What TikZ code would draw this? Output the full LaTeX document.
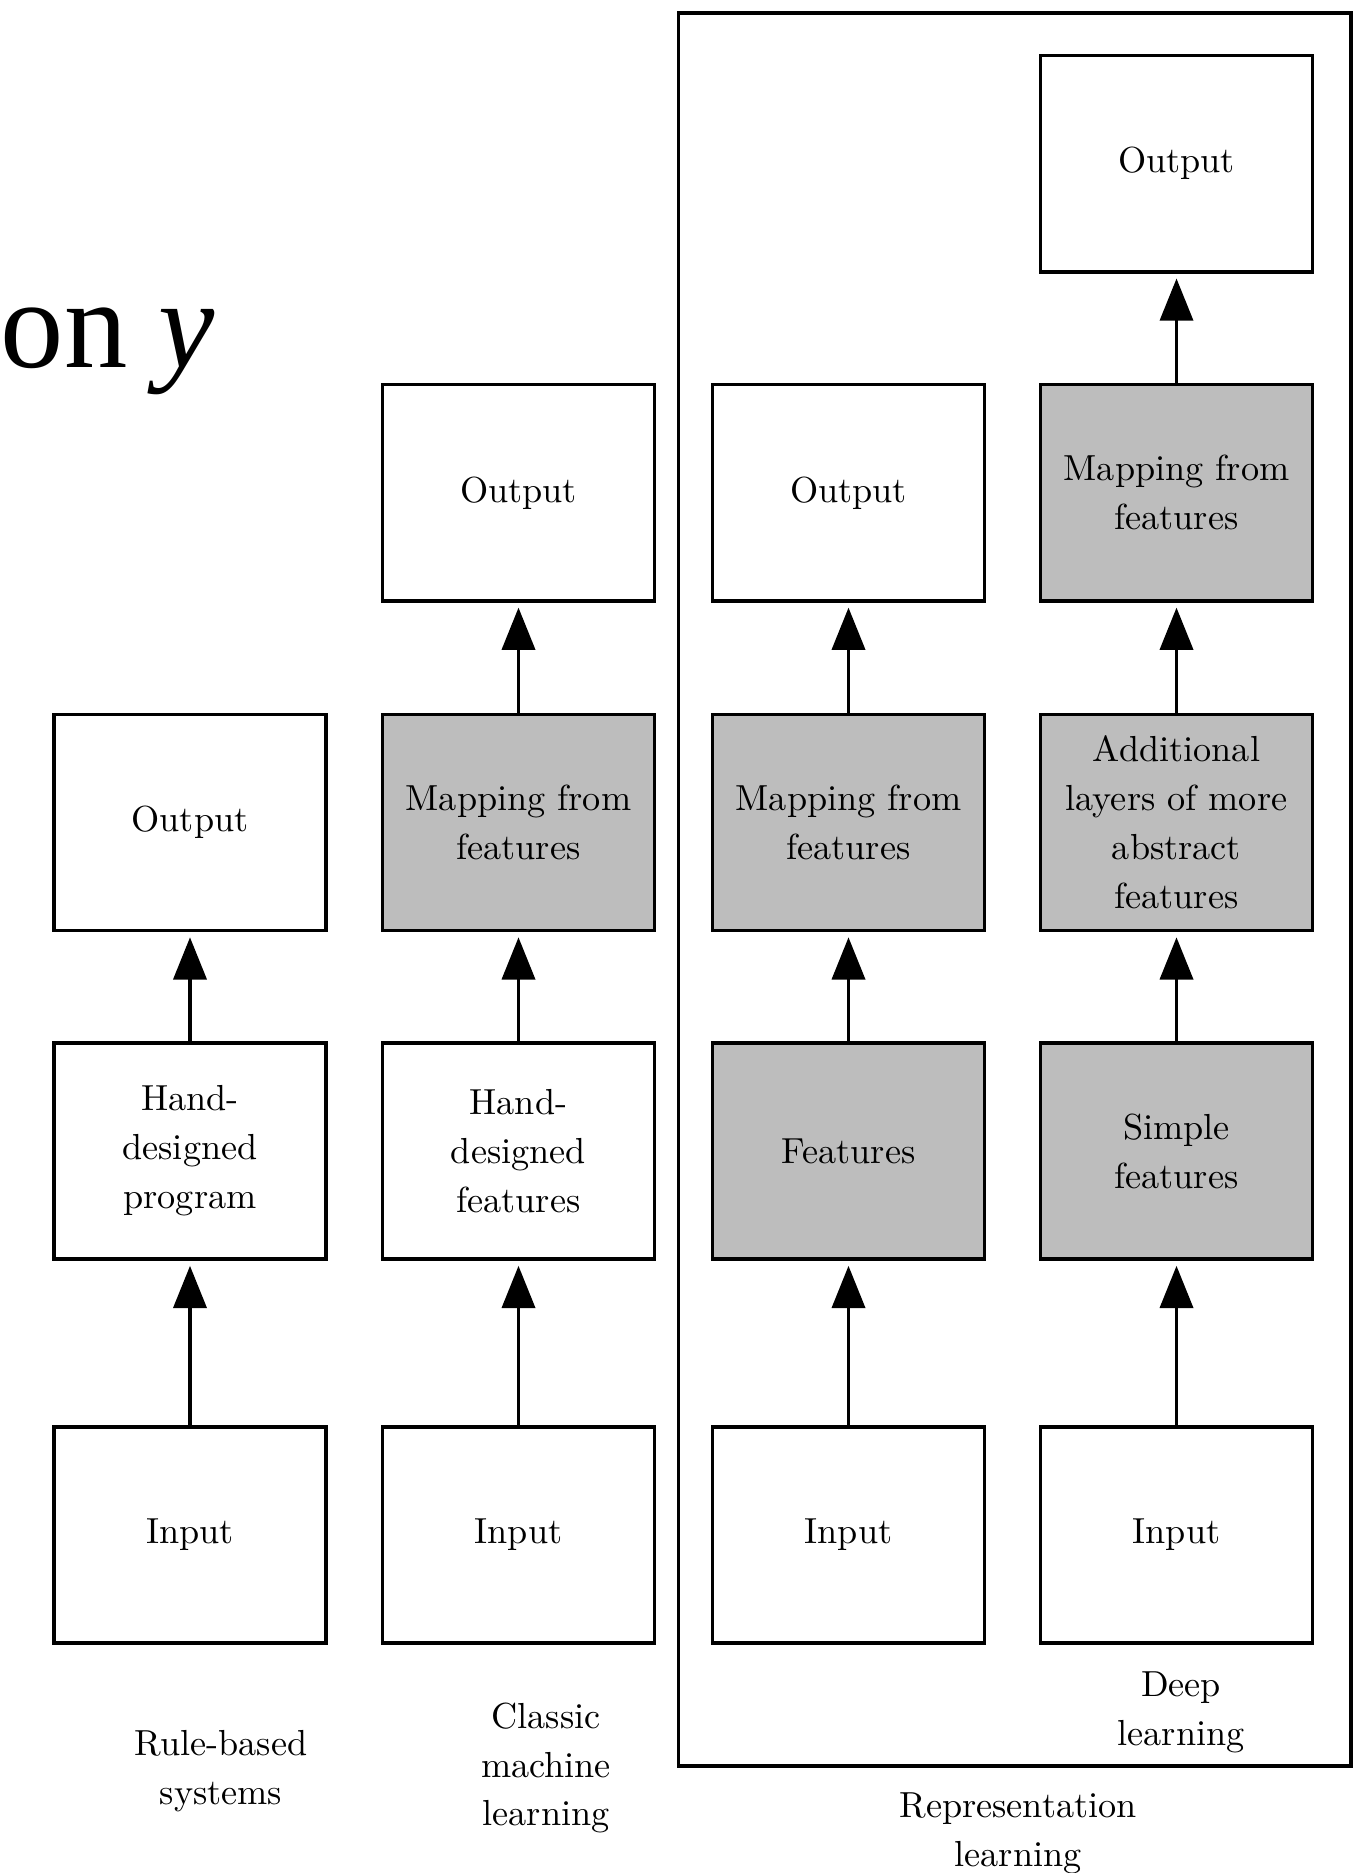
\documentclass[tikz,border=0pt]{standalone}
\usepackage{fontspec}
\usepackage{tikz}
\usetikzlibrary{arrows.meta}

\newfontfamily\ttlfont{Liberation Serif}

\tikzset{
  blk/.style={draw, line width=1pt, minimum width=2.72cm, minimum height=2.16cm,
              align=center, inner sep=2pt, font=\fontsize{10.3}{13.9}\selectfont},
  blkgray/.style={blk, fill=black!26},
  uparr/.style={-{Triangle[length=12pt,width=9.4pt]}, line width=1pt, shorten >=0.05cm},
  lbl/.style={align=center, font=\fontsize{10.3}{13.9}\selectfont}
}

\begin{document}
\begin{tikzpicture}[x=0.01cm, y=-0.01cm]
        \useasboundingbox (0,0) rectangle (1363,1873);

        % title fragment, cut at the left edge
        \node[anchor=base west, inner sep=0pt, font=\ttlfont\fontsize{36}{40}\selectfont] (ttl) at (0,367) {on \textit{y}};

        % representation learning frame
        \draw[line width=1pt] (678.5,13) rectangle (1351,1766);

        % inputs
        \foreach \x/\n in {190/1, 518.5/2, 848.5/3, 1176.5/4}
            \node[blk] (in\n) at (\x,1535) {Input};

        % rule-based systems
        \node[blk] (prg1) at (190,1151) {Hand-\\designed\\program};
        \node[blk] (out1) at (190,822.5) {Output};

        % classic machine learning
        \node[blk] (hdf2) at (518.5,1151) {Hand-\\designed\\features};
        \node[blkgray] (map2) at (518.5,822.5) {Mapping from\\features};
        \node[blk] (out2) at (518.5,492.8) {Output};

        % representation learning
        \node[blkgray] (ftr3) at (848.5,1151) {Features};
        \node[blkgray] (map3) at (848.5,822.5) {Mapping from\\features};
        \node[blk] (out3) at (848.5,492.8) {Output};

        % deep learning
        \node[blkgray] (smp4) at (1176.5,1151) {Simple\\features};
        \node[blkgray] (abs4) at (1176.5,822.5) {Additional\\layers of more\\abstract\\features};
        \node[blkgray] (map4) at (1176.5,492.8) {Mapping from\\features};
        \node[blk] (out4) at (1176.5,163.7) {Output};

        % arrows
        \foreach \a/\b in {in1/prg1, prg1/out1, in2/hdf2, hdf2/map2, map2/out2,
                           in3/ftr3, ftr3/map3, map3/out3,
                           in4/smp4, smp4/abs4, abs4/map4, map4/out4}
            \draw[uparr] (\a.north) -- (\b.south);

        % captions
        \node[lbl] (cap1) at (221,1771) {Rule-based\\systems};
        \node[lbl] (cap2) at (546,1768) {Classic\\machine\\learning};
        \node[lbl] (cap4) at (1181,1712) {Deep\\learning};
        \node[lbl] (cap3) at (1018,1833) {Representation\\learning};
    \end{tikzpicture}
\end{document}
